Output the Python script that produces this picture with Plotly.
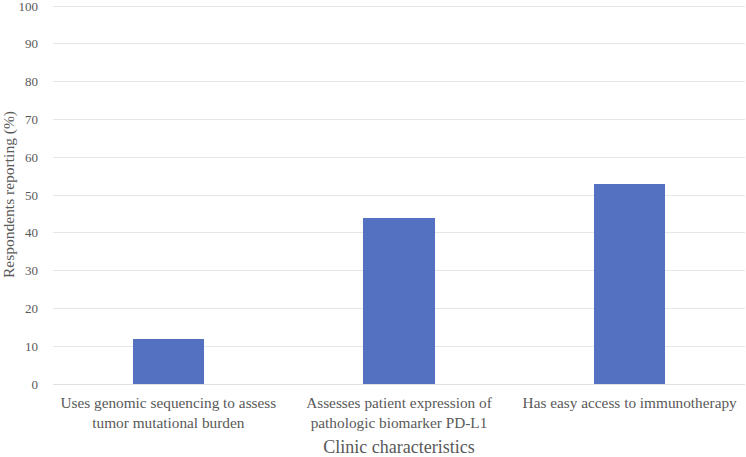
import plotly.graph_objects as go

categories = [
    "Uses genomic sequencing to assess<br>tumor mutational burden",
    "Assesses patient expression of<br>pathologic biomarker PD-L1",
    "Has easy access to immunotherapy",
]
values = [12, 44, 53]
y_ticks = list(range(0, 101, 10))

font_family = "Liberation Serif, Times New Roman, serif"
text_color = "#595959"

fig = go.Figure(
    go.Bar(
        x=categories,
        y=values,
        marker=dict(color="#5470C0", line=dict(width=0)),
        width=0.31,
    )
)

fig.update_layout(
    width=746,
    height=457,
    margin=dict(l=53, r=1, t=5, b=73, autoexpand=False),
    plot_bgcolor="white",
    paper_bgcolor="white",
    font=dict(family=font_family, size=15, color=text_color),
    showlegend=False,
    bargap=0,
)

fig.update_xaxes(
    automargin=False,
    showgrid=False,
    showline=True,
    linecolor="#e0e0e0",
    linewidth=1,
    ticks="",
    tickfont=dict(size=15.3, color=text_color),
    ticklabelstandoff=5,
    title=dict(text="Clinic characteristics", font=dict(size=18, color=text_color), standoff=10),
)
fig.update_yaxes(
    automargin=False,
    range=[0, 100.3],
    tickvals=y_ticks,
    ticklabeloverflow="allow",
    showgrid=True,
    gridcolor="#e6e6e6",
    gridwidth=1,
    zeroline=False,
    showline=False,
    ticks="",
    tickfont=dict(size=13, color=text_color),
    ticklabelstandoff=14,
    title=dict(text="Respondents reporting (%)", font=dict(size=15.5, color=text_color), standoff=10),
)

fig.write_html(
    "out.html",
    config={"displayModeBar": False},
    post_script="document.body.style.margin='0';",
)
